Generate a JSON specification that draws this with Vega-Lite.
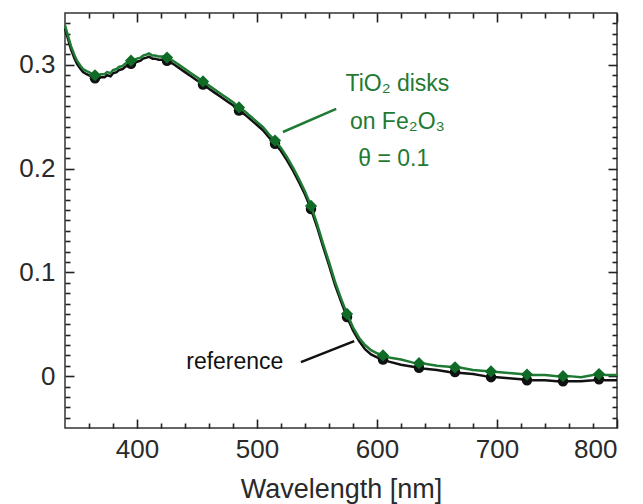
{
  "$schema": "https://vega.github.io/schema/vega-lite/v6.json",
  "width": 552,
  "height": 415,
  "autosize": {"type": "none"},
  "padding": {"left": 65, "top": 13, "right": 26, "bottom": 76},
  "background": "white",
  "config": {
    "view": {"stroke": "#333333", "strokeWidth": 1.5},
    "font": "Liberation Sans",
    "axis": {"grid": false, "domain": false, "labelFont": "Liberation Sans", "titleFont": "Liberation Sans", "tickColor": "#222222", "tickWidth": 1.6, "ticks": true}
  },
  "datasets": {
    "curves": [
      {"wl": 340, "g": 0.338, "r": 0.335},
      {"wl": 343, "g": 0.326, "r": 0.323},
      {"wl": 345, "g": 0.318, "r": 0.315},
      {"wl": 348, "g": 0.309, "r": 0.306},
      {"wl": 350, "g": 0.304, "r": 0.301},
      {"wl": 353, "g": 0.299, "r": 0.296},
      {"wl": 355, "g": 0.296, "r": 0.293},
      {"wl": 358, "g": 0.294, "r": 0.291},
      {"wl": 360, "g": 0.293, "r": 0.290},
      {"wl": 363, "g": 0.291, "r": 0.288},
      {"wl": 365, "g": 0.290, "r": 0.287},
      {"wl": 368, "g": 0.290, "r": 0.287},
      {"wl": 370, "g": 0.291, "r": 0.288},
      {"wl": 373, "g": 0.291, "r": 0.288},
      {"wl": 375, "g": 0.293, "r": 0.290},
      {"wl": 378, "g": 0.292, "r": 0.289},
      {"wl": 380, "g": 0.295, "r": 0.292},
      {"wl": 383, "g": 0.296, "r": 0.293},
      {"wl": 385, "g": 0.298, "r": 0.295},
      {"wl": 388, "g": 0.299, "r": 0.296},
      {"wl": 390, "g": 0.301, "r": 0.298},
      {"wl": 393, "g": 0.303, "r": 0.300},
      {"wl": 395, "g": 0.304, "r": 0.301},
      {"wl": 398, "g": 0.305, "r": 0.302},
      {"wl": 400, "g": 0.306, "r": 0.303},
      {"wl": 403, "g": 0.307, "r": 0.304},
      {"wl": 405, "g": 0.309, "r": 0.306},
      {"wl": 408, "g": 0.310, "r": 0.307},
      {"wl": 410, "g": 0.311, "r": 0.308},
      {"wl": 413, "g": 0.309, "r": 0.306},
      {"wl": 415, "g": 0.309, "r": 0.306},
      {"wl": 418, "g": 0.308, "r": 0.305},
      {"wl": 420, "g": 0.308, "r": 0.305},
      {"wl": 423, "g": 0.308, "r": 0.305},
      {"wl": 425, "g": 0.307, "r": 0.304},
      {"wl": 430, "g": 0.304, "r": 0.301},
      {"wl": 435, "g": 0.300, "r": 0.297},
      {"wl": 440, "g": 0.296, "r": 0.293},
      {"wl": 445, "g": 0.292, "r": 0.289},
      {"wl": 450, "g": 0.288, "r": 0.285},
      {"wl": 455, "g": 0.284, "r": 0.281},
      {"wl": 460, "g": 0.280, "r": 0.277},
      {"wl": 465, "g": 0.276, "r": 0.273},
      {"wl": 470, "g": 0.272, "r": 0.269},
      {"wl": 475, "g": 0.268, "r": 0.265},
      {"wl": 480, "g": 0.264, "r": 0.261},
      {"wl": 485, "g": 0.259, "r": 0.256},
      {"wl": 490, "g": 0.255, "r": 0.252},
      {"wl": 495, "g": 0.250, "r": 0.247},
      {"wl": 500, "g": 0.245, "r": 0.242},
      {"wl": 505, "g": 0.240, "r": 0.237},
      {"wl": 510, "g": 0.233, "r": 0.230},
      {"wl": 515, "g": 0.227, "r": 0.224},
      {"wl": 520, "g": 0.220, "r": 0.217},
      {"wl": 525, "g": 0.211, "r": 0.208},
      {"wl": 530, "g": 0.201, "r": 0.198},
      {"wl": 535, "g": 0.190, "r": 0.187},
      {"wl": 540, "g": 0.178, "r": 0.175},
      {"wl": 545, "g": 0.164, "r": 0.161},
      {"wl": 550, "g": 0.147, "r": 0.144},
      {"wl": 555, "g": 0.128, "r": 0.125},
      {"wl": 560, "g": 0.110, "r": 0.107},
      {"wl": 565, "g": 0.091, "r": 0.088},
      {"wl": 570, "g": 0.075, "r": 0.072},
      {"wl": 575, "g": 0.060, "r": 0.057},
      {"wl": 580, "g": 0.047, "r": 0.044},
      {"wl": 585, "g": 0.037, "r": 0.034},
      {"wl": 590, "g": 0.030, "r": 0.026},
      {"wl": 595, "g": 0.025, "r": 0.021},
      {"wl": 600, "g": 0.022, "r": 0.018},
      {"wl": 605, "g": 0.020, "r": 0.016},
      {"wl": 610, "g": 0.018, "r": 0.014},
      {"wl": 620, "g": 0.016, "r": 0.011},
      {"wl": 630, "g": 0.013, "r": 0.009},
      {"wl": 640, "g": 0.012, "r": 0.007},
      {"wl": 650, "g": 0.010, "r": 0.006},
      {"wl": 660, "g": 0.009, "r": 0.004},
      {"wl": 670, "g": 0.008, "r": 0.003},
      {"wl": 680, "g": 0.006, "r": 0.002},
      {"wl": 690, "g": 0.005, "r": 0.000},
      {"wl": 700, "g": 0.004, "r": -0.001},
      {"wl": 710, "g": 0.003, "r": -0.002},
      {"wl": 720, "g": 0.002, "r": -0.003},
      {"wl": 730, "g": 0.001, "r": -0.004},
      {"wl": 740, "g": 0.001, "r": -0.004},
      {"wl": 750, "g": 0.000, "r": -0.005},
      {"wl": 760, "g": 0.000, "r": -0.005},
      {"wl": 770, "g": -0.001, "r": -0.005},
      {"wl": 780, "g": 0.001, "r": -0.004},
      {"wl": 785, "g": 0.002, "r": -0.003},
      {"wl": 790, "g": 0.001, "r": -0.004},
      {"wl": 800, "g": 0.001, "r": -0.004}
    ],
    "markers": [
      {"wl": 365, "g": 0.290, "r": 0.287},
      {"wl": 395, "g": 0.304, "r": 0.301},
      {"wl": 425, "g": 0.307, "r": 0.304},
      {"wl": 455, "g": 0.284, "r": 0.281},
      {"wl": 485, "g": 0.259, "r": 0.256},
      {"wl": 515, "g": 0.227, "r": 0.224},
      {"wl": 545, "g": 0.164, "r": 0.161},
      {"wl": 575, "g": 0.060, "r": 0.057},
      {"wl": 605, "g": 0.020, "r": 0.016},
      {"wl": 635, "g": 0.0125, "r": 0.008},
      {"wl": 665, "g": 0.0085, "r": 0.004},
      {"wl": 695, "g": 0.0045, "r": -0.001},
      {"wl": 725, "g": 0.0015, "r": -0.004},
      {"wl": 755, "g": 0.000, "r": -0.005},
      {"wl": 785, "g": 0.002, "r": -0.003}
    ],
    "pointers": [
      {"series": "tio2", "wl": 521.6, "a": 0.2353, "wl2": 566, "a2": 0.2575},
      {"series": "ref", "wl": 536.6, "a": 0.0135, "wl2": 581, "a2": 0.0338}
    ],
    "labels": [
      {"series": "tio2", "text": "TiO₂ disks", "wl": 617, "a": 0.2816},
      {"series": "tio2", "text": "on Fe₂O₃", "wl": 617, "a": 0.245},
      {"series": "tio2", "text": "θ = 0.1", "wl": 614, "a": 0.209},
      {"series": "ref", "text": "reference", "wl": 481.5, "a": 0.0135}
    ]
  },
  "resolve": {"axis": {"x": "independent", "y": "independent"}},
  "layer": [
    {
      "data": {"name": "curves"},
      "mark": {"type": "line", "color": "#111111", "strokeWidth": 2.5},
      "encoding": {
        "x": {"field": "wl", "type": "quantitative", "scale": {"domain": [340, 800], "nice": false, "zero": false},
              "axis": {"orient": "bottom", "title": "Wavelength [nm]", "values": [400, 500, 600, 700, 800], "ticks": false, "labelFontSize": 26, "labelColor": "#2a2a2a", "labelPadding": 8, "titleFontSize": 27, "titleFontWeight": "normal", "titleColor": "#2a2a2a", "titlePadding": 14}},
        "y": {"field": "r", "type": "quantitative", "scale": {"domain": [-0.05, 0.35], "nice": false, "zero": false},
              "axis": {"orient": "left", "title": null, "values": [0, 0.1, 0.2, 0.3], "ticks": false, "labelFontSize": 26, "labelColor": "#2a2a2a", "labelPadding": 10, "labelExpr": "datum.value == 0 ? '0' : format(datum.value, '.1f')"}}
      }
    },
    {
      "data": {"name": "markers"},
      "mark": {"type": "point", "shape": "circle", "filled": true, "color": "#111111", "size": 110, "opacity": 1},
      "encoding": {
        "x": {"field": "wl", "type": "quantitative",
              "axis": {"orient": "bottom", "title": null, "labels": false, "ticks": true, "tickColor": "#222222", "values": [400, 500, 600, 700, 800], "tickSize": -9}},
        "y": {"field": "r", "type": "quantitative",
              "axis": {"orient": "left", "title": null, "labels": false, "ticks": true, "tickColor": "#222222", "values": [0, 0.1, 0.2, 0.3], "tickSize": -9}}
      }
    },
    {
      "data": {"name": "curves"},
      "mark": {"type": "line", "color": "#1f7a33", "strokeWidth": 2.5},
      "encoding": {
        "x": {"field": "wl", "type": "quantitative",
              "axis": {"orient": "bottom", "title": null, "labels": false, "ticks": true, "tickColor": "#222222", "values": [360, 380, 420, 440, 460, 480, 520, 540, 560, 580, 620, 640, 660, 680, 720, 740, 760, 780], "tickSize": -5}},
        "y": {"field": "g", "type": "quantitative",
              "axis": {"orient": "left", "title": null, "labels": false, "ticks": true, "tickColor": "#222222", "values": [-0.04, -0.03, -0.02, -0.01, 0.01, 0.02, 0.03, 0.04, 0.05, 0.06, 0.07, 0.08, 0.09, 0.11, 0.12, 0.13, 0.14, 0.15, 0.16, 0.17, 0.18, 0.19, 0.21, 0.22, 0.23, 0.24, 0.25, 0.26, 0.27, 0.28, 0.29, 0.31, 0.32, 0.33, 0.34], "tickSize": -5}}
      }
    },
    {
      "data": {"name": "markers"},
      "mark": {"type": "point", "shape": "diamond", "filled": true, "color": "#0f6b26", "size": 150, "opacity": 1},
      "encoding": {
        "x": {"field": "wl", "type": "quantitative",
              "axis": {"orient": "top", "title": null, "labels": false, "ticks": true, "tickColor": "#222222", "values": [400, 500, 600, 700, 800], "tickSize": -9}},
        "y": {"field": "g", "type": "quantitative",
              "axis": {"orient": "right", "title": null, "labels": false, "ticks": true, "tickColor": "#222222", "values": [0, 0.1, 0.2, 0.3], "tickSize": -9}}
      }
    },
    {
      "data": {"name": "pointers"},
      "mark": {"type": "rule", "strokeWidth": 2.5},
      "encoding": {
        "x": {"field": "wl", "type": "quantitative",
              "axis": {"orient": "top", "title": null, "labels": false, "ticks": true, "tickColor": "#222222", "values": [360, 380, 420, 440, 460, 480, 520, 540, 560, 580, 620, 640, 660, 680, 720, 740, 760, 780], "tickSize": -5}},
        "y": {"field": "a", "type": "quantitative",
              "axis": {"orient": "right", "title": null, "labels": false, "ticks": true, "tickColor": "#222222", "values": [-0.04, -0.03, -0.02, -0.01, 0.01, 0.02, 0.03, 0.04, 0.05, 0.06, 0.07, 0.08, 0.09, 0.11, 0.12, 0.13, 0.14, 0.15, 0.16, 0.17, 0.18, 0.19, 0.21, 0.22, 0.23, 0.24, 0.25, 0.26, 0.27, 0.28, 0.29, 0.31, 0.32, 0.33, 0.34], "tickSize": -5}},
        "x2": {"field": "wl2"},
        "y2": {"field": "a2"},
        "color": {"field": "series", "type": "nominal", "scale": {"domain": ["tio2", "ref"], "range": ["#1f7a33", "#111111"]}, "legend": null}
      }
    },
    {
      "data": {"name": "labels"},
      "mark": {"type": "text", "align": "center", "baseline": "middle", "font": "Liberation Sans"},
      "encoding": {
        "x": {"field": "wl", "type": "quantitative", "axis": null},
        "y": {"field": "a", "type": "quantitative", "axis": null},
        "text": {"field": "text"},
        "size": {"field": "series", "type": "nominal", "scale": {"domain": ["tio2", "ref"], "range": [23, 23]}, "legend": null},
        "color": {"field": "series", "type": "nominal", "scale": {"domain": ["tio2", "ref"], "range": ["#3b8c5a", "#505050"]}, "legend": null}
      }
    }
  ]
}
